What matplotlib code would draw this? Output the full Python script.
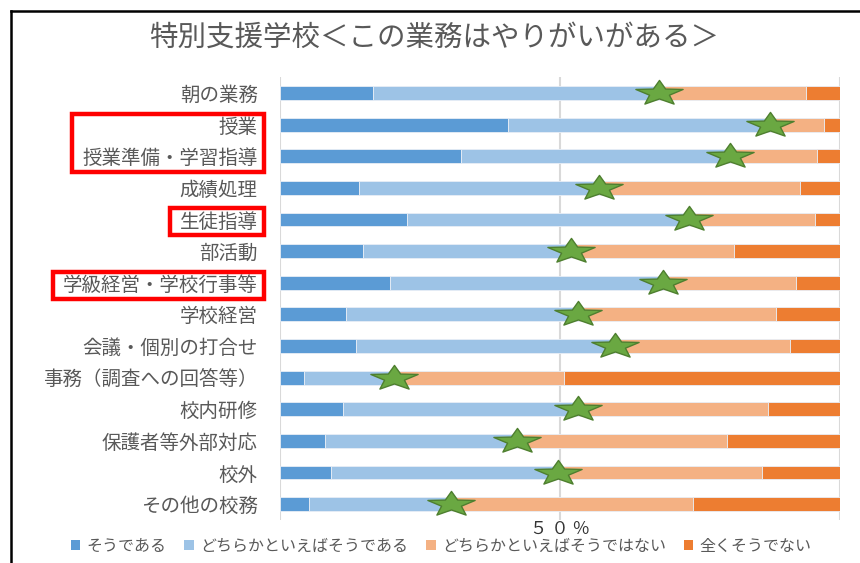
import numpy as np
import matplotlib
matplotlib.use("Agg")
import matplotlib.pyplot as plt
from matplotlib.path import Path
from matplotlib.patches import Rectangle, Patch
from matplotlib.lines import Line2D

plt.rcParams['font.family'] = ['Noto Sans CJK JP', 'DejaVu Sans']

# survey items, top to bottom
items = ["朝の業務", "授業", "授業準備・学習指導", "成績処理", "生徒指導", "部活動",
         "学級経営・学校行事等", "学校経営", "会議・個別の打合せ", "事務（調査への回答等）",
         "校内研修", "保護者等外部対応", "校外", "その他の校務"]

# answer shares (%)
yes = [16.6, 40.8, 32.4, 14.1, 22.7, 14.9, 19.6, 11.7, 13.5, 4.3, 11.3, 8.1, 9.1, 5.2]
rather_yes = [51.1, 46.8, 47.9, 42.9, 50.4, 37.0, 48.8, 41.6, 46.3, 16.0, 42.0, 34.3, 40.6, 25.3]
rather_no = [26.2, 9.6, 15.7, 35.9, 22.5, 29.1, 23.7, 35.3, 31.3, 30.4, 33.8, 37.5, 36.4, 43.2]
not_at_all = [6.1, 2.8, 4.0, 7.1, 4.4, 19.0, 7.9, 11.4, 8.9, 49.3, 12.9, 20.1, 13.9, 26.3]

answers = ["そうである", "どちらかといえばそうである", "どちらかといえばそうではない", "全くそうでない"]
colors = ["#5B9BD5", "#9DC3E6", "#F4B183", "#ED7D31"]

# items boxed in red on the label side
highlight = [["授業", "授業準備・学習指導"], ["生徒指導"], ["学級経営・学校行事等"]]

fig = plt.figure(figsize=(8.6, 5.63), dpi=100)
ax = fig.add_axes([0.3256, 0.0764, 0.651, 0.7866])

y = np.arange(len(items))
left = np.zeros(len(items))
for vals, c in zip([yes, rather_yes, rather_no, not_at_all], colors):
    vals = np.array(vals)
    ax.barh(y, vals, left=left, height=0.44, color=c, edgecolor="#e8eef6",
            linewidth=0.6, zorder=2)
    left += vals

# squashed five-point star for the positive total
ang_out = np.deg2rad(90 + 72 * np.arange(5))
ang_in = ang_out + np.deg2rad(36)
pts = []
for a, b in zip(ang_out, ang_in):
    pts.append((np.cos(a) * 1.9, np.sin(a)))
    pts.append((0.42 * np.cos(b) * 1.9, 0.42 * np.sin(b)))
pts.append(pts[0])
star = Path(pts, [Path.MOVETO] + [Path.LINETO] * 9 + [Path.CLOSEPOLY])
positive = np.array(yes) + np.array(rather_yes)
ax.plot(positive, y, linestyle="none", marker=star, markersize=34,
        markerfacecolor="#6AA842", markeredgecolor="#4E7F2F",
        markeredgewidth=1.0, zorder=4)

ax.set_xlim(0, 100)
ax.set_ylim(len(items) - 0.5, -0.5)
ax.set_xticks([0, 50, 100])
ax.set_xticklabels(["", "５ ０ ％", ""], fontsize=12.5, color="#333333")
ax.set_yticks(y)
ax.set_yticklabels(items, fontsize=14, color="#595959")
ax.tick_params(axis="both", length=0)
ax.tick_params(axis="y", pad=16)
ax.tick_params(axis="x", pad=0)
ax.grid(axis="x", color="#D9D9D9", linewidth=1.5, zorder=0)
ax.set_axisbelow(True)
for s in ax.spines.values():
    s.set_visible(False)

fig.text(0.505, 1 - 38 / 563, "特別支援学校＜この業務はやりがいがある＞",
         ha="center", va="center", fontsize=20.5, color="#595959")

handles = [Patch(facecolor=c, edgecolor="none") for c in colors]
fig.legend(handles, answers, loc="center", bbox_to_anchor=(0.513, 1 - 546 / 563),
           ncol=4, frameon=False, fontsize=11.5, handlelength=0.6, handleheight=0.6,
           handletextpad=0.4, columnspacing=1.1, labelcolor="#595959")

# frame lines along the top and left of the figure
fig.add_artist(Line2D([11 / 860, 11 / 860], [0, 1 - 11 / 563], color="black",
                      linewidth=1.8, transform=fig.transFigure))
fig.add_artist(Line2D([11 / 860, 1], [1 - 11 / 563, 1 - 11 / 563], color="black",
                      linewidth=1.8, transform=fig.transFigure))

# red boxes around the highlighted labels
fig.canvas.draw()
renderer = fig.canvas.get_renderer()
labels = {t.get_text(): t for t in ax.get_yticklabels()}
inv = fig.transFigure.inverted()
for group in highlight:
    boxes = [labels[name].get_window_extent(renderer) for name in group]
    x0 = min(b.x0 for b in boxes) - 10
    x1 = max(b.x1 for b in boxes) + 6
    y0 = min(b.y0 for b in boxes) - 3
    y1 = max(b.y1 for b in boxes) + 3
    (fx0, fy0), (fx1, fy1) = inv.transform([(x0, y0), (x1, y1)])
    fig.add_artist(Rectangle((fx0, fy0), fx1 - fx0, fy1 - fy0, fill=False,
                             edgecolor="#FF0000", linewidth=3.2,
                             transform=fig.transFigure))

fig.savefig("out.png", dpi=100)
